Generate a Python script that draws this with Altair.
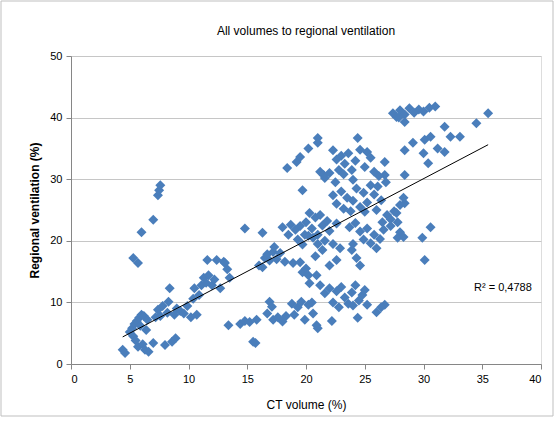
import altair as alt
import pandas as pd

ct_volume = [
    4.4, 4.6, 5.0, 5.2, 5.3, 5.4, 5.5, 5.6, 5.7, 5.8, 5.9, 6.0, 6.1, 6.2, 6.3, 6.4, 6.5, 6.6, 7.0, 7.2,
    7.4, 7.6, 7.8, 8.0, 8.2, 8.4, 8.3, 8.6, 8.9, 8.8, 9.0, 9.3, 9.6, 9.9, 10.2, 10.4, 10.7, 10.5, 10.9, 11.1,
    11.3, 11.6, 11.5, 11.7, 12.0, 12.2, 12.4, 12.7, 13.0, 13.1, 13.3, 13.5, 13.4,
    5.3, 5.7, 6.0, 7.0, 7.4, 7.5, 7.6,
    14.4, 14.8, 15.2, 15.5, 15.7, 15.8, 14.8, 16.0, 16.3, 16.3, 16.5, 16.7, 16.9, 17.2, 17.5, 17.8, 18.2, 17.3,
    18.0, 18.5, 18.7, 18.9, 19.1, 19.3, 19.5, 19.7, 19.9, 19.7, 19.5, 20.0, 20.2, 20.9, 20.3,
    16.9, 17.1, 16.7, 17.2, 17.6, 18.0, 18.3, 18.8, 19.0, 19.3, 19.6, 19.9, 20.2, 20.5, 20.6, 20.9, 21.0,
    22.2, 24.4, 26.0, 26.7, 26.4,
    18.4, 19.2, 19.5, 19.7, 20.2, 21.0, 21.0, 21.2, 21.5, 22.0,
    20.0, 20.3, 20.5, 20.8, 21.0, 21.2, 21.4, 21.6, 21.8, 22.0, 22.3, 22.6, 22.9, 22.0, 22.6, 21.0, 20.6,
    21.4, 20.2, 20.8,
    21.2, 21.6, 22.0, 22.3, 22.6, 23.0, 23.3, 23.6, 23.9, 24.2, 24.5, 24.8, 25.2, 24.0, 22.8, 25.0,
    22.3, 22.6, 23.0, 23.3, 23.6, 23.9, 24.2, 24.4, 24.6, 25.0, 25.2, 25.5, 24.0, 22.5, 22.8, 23.2, 21.6,
    26.7, 26.7, 25.8, 26.2,
    22.3, 22.6, 23.0, 23.2, 23.5, 23.8, 24.0, 24.3, 24.6, 24.9, 25.2, 25.5, 25.8, 26.1, 26.4, 26.8, 25.0, 26.0,
    23.7, 24.2, 24.6, 24.9, 25.2, 25.5, 25.8, 26.0, 26.3, 26.6, 26.9, 27.2, 27.5, 27.8, 28.0, 27.2, 26.5,
    28.4, 27.7, 28.0, 23.9, 24.3, 24.6, 24.0,
    27.8, 28.3, 29.9, 30.6, 30.1,
    28.3, 28.4, 28.4, 29.1, 30.0, 30.1, 30.6, 31.2, 31.8, 30.4, 32.3, 33.1, 31.8, 34.5, 35.5,
    27.4, 27.7, 28.0, 28.4, 28.8, 29.2, 29.6, 30.0, 30.5, 31.0, 28.4, 27.9,
]

regional_ventilation = [
    2.3, 1.8, 5.2, 5.8, 4.5, 6.5, 3.8, 7.0, 2.8, 7.5, 6.2, 8.0, 3.2, 7.8, 2.3, 5.5, 7.2, 2.0, 3.4, 7.6,
    8.8, 7.8, 9.4, 3.1, 8.3, 12.3, 10.1, 3.6, 4.2, 8.0, 9.0, 8.6, 8.2, 9.4, 7.6, 10.6, 8.0, 12.3, 11.2, 12.8,
    14.0, 16.9, 13.2, 14.4, 12.8, 13.7, 16.9, 12.3, 16.6, 16.4, 15.4, 14.0, 6.3,
    17.2, 16.4, 21.4, 23.4, 27.4, 28.2, 29.0,
    6.5, 7.0, 6.8, 3.6, 3.4, 7.2, 22.0, 16.0, 15.7, 21.3, 17.2, 17.8, 16.8, 18.2, 17.0, 18.0, 16.6, 19.0,
    22.2, 21.0, 22.6, 16.4, 21.8, 20.2, 22.4, 19.4, 21.0, 14.9, 16.5, 15.5, 14.4, 14.4, 13.1,
    10.1, 9.3, 8.2, 7.2, 7.6, 6.9, 7.8, 9.8, 8.0, 9.2, 10.1, 7.2, 9.6, 10.0, 8.2, 6.3, 5.8,
    7.0, 7.5, 8.4, 9.6, 9.2,
    31.8, 32.8, 33.6, 28.2, 35.0, 36.7, 35.9, 31.2, 30.7, 31.0,
    23.0, 24.5, 22.0, 23.8, 21.0, 24.2, 22.5, 20.0, 23.2, 21.6, 19.5, 22.8, 18.8, 16.0, 16.9, 19.5, 20.5,
    18.5, 20.8, 17.5,
    12.8, 11.5, 12.3, 10.0, 11.8, 12.5, 10.8, 9.8, 11.6, 12.8, 10.3, 11.2, 9.6, 9.5, 9.2, 12.0,
    34.7, 33.2, 33.8, 32.5, 34.2, 31.5, 33.0, 36.7, 34.8, 32.0, 34.4, 33.5, 29.9, 29.5, 31.5, 30.8, 30.2,
    32.8, 30.7, 31.2, 30.5,
    27.4, 26.0, 28.0, 25.2, 27.0, 24.8, 26.5, 28.5, 25.5, 27.8, 26.2, 29.0, 27.5, 28.8, 26.6, 29.5, 24.7, 25.0,
    22.2, 22.9, 21.5, 20.2, 22.0, 19.6, 21.0, 18.8, 20.3, 21.8, 24.2, 23.5, 24.8, 23.0, 25.8, 22.4, 23.0,
    26.1, 24.5, 21.4, 18.5, 17.2, 16.0, 19.5,
    20.5, 20.6, 20.5, 22.2, 16.9,
    27.0, 30.7, 34.7, 35.9, 34.2, 36.4, 36.9, 35.0, 34.4, 32.6, 36.9, 36.9, 38.5, 39.1, 40.7,
    40.7, 40.1, 41.2, 40.5, 41.5, 40.8, 41.3, 41.0, 41.6, 41.8, 39.3, 40.0,
]

trend_x = [4.4, 35.5]
trend_y = [4.4, 35.6]

r2_label = ["R\u00b2 = 0,4788"]
r2_x = [34.3]
r2_y = [12.3]

title_text = "All volumes to regional ventilation"
x_ticks = [0, 5, 10, 15, 20, 25, 30, 35, 40]
y_ticks = [0, 5, 10, 15, 20, 25, 30, 35, 40, 45, 50]

FONT = "Liberation Sans"
COLOR = "#4A7EBB"

pts = pd.DataFrame({"x": ct_volume, "y": regional_ventilation})
trend = pd.DataFrame({"x": trend_x, "y": trend_y})
lab = pd.DataFrame({"x": r2_x, "y": r2_y, "t": r2_label})

xs = alt.Scale(domain=[0, 40], nice=False, zero=False)
ys = alt.Scale(domain=[0, 50], nice=False, zero=False)

x_axis = alt.Axis(values=x_ticks, grid=False, title="CT volume (%)", titleFont=FONT,
                  titleFontSize=12, titleFontWeight="normal", titleColor="#000000",
                  titleX=235, titleY=40, titleBaseline="middle", titleAlign="center",
                  labelFont=FONT, labelFontSize=11, labelColor="#000000", labelPadding=4,
                  domainColor="#868686", tickColor="#868686", tickSize=5)
y_axis = alt.Axis(values=y_ticks, grid=True, gridColor="#C6C6C6", title="Regional ventilation (%)",
                  titleFont=FONT, titleFontSize=12, titleFontWeight="bold", titleColor="#000000",
                  titleX=-37, titleY=154, titleAngle=270, titleBaseline="middle", titleAlign="center",
                  labelFont=FONT, labelFontSize=11, labelColor="#000000", labelPadding=4,
                  domainColor="#868686", tickColor="#868686", tickSize=5)

base_df = pd.DataFrame({"t": [title_text]})

border = alt.Chart(base_df).mark_rect(
    fill=None, stroke="#BFBFBF", strokeWidth=1, clip=False
).encode(x=alt.value(-70), x2=alt.value(482), y=alt.value(-55), y2=alt.value(360))

title = alt.Chart(base_df).mark_text(
    font=FONT, fontSize=12, color="#000000", align="center", baseline="middle", clip=False
).encode(x=alt.value(235), y=alt.value(-25), text="t:N")

points = alt.Chart(pts).mark_point(
    shape="diamond", filled=True, color=COLOR, size=100, opacity=1
).encode(
    x=alt.X("x:Q", scale=xs, axis=x_axis),
    y=alt.Y("y:Q", scale=ys, axis=y_axis),
)

line = alt.Chart(trend).mark_line(color="#000000", strokeWidth=1).encode(
    x=alt.X("x:Q", scale=xs), y=alt.Y("y:Q", scale=ys)
)

text = alt.Chart(lab).mark_text(align="left", baseline="middle", font=FONT, fontSize=11,
                                color="#000000").encode(
    x=alt.X("x:Q", scale=xs), y=alt.Y("y:Q", scale=ys), text="t:N"
)

chart = alt.layer(border, title, points, line, text).properties(
    width=470, height=308,
    autosize=alt.AutoSizeParams(type="none"),
    padding={"left": 71, "top": 56, "right": 15, "bottom": 64},
).configure_view(stroke=None).configure(background="#FFFFFF")

chart.save("out.html", embed_options={"renderer": "svg", "actions": False})
